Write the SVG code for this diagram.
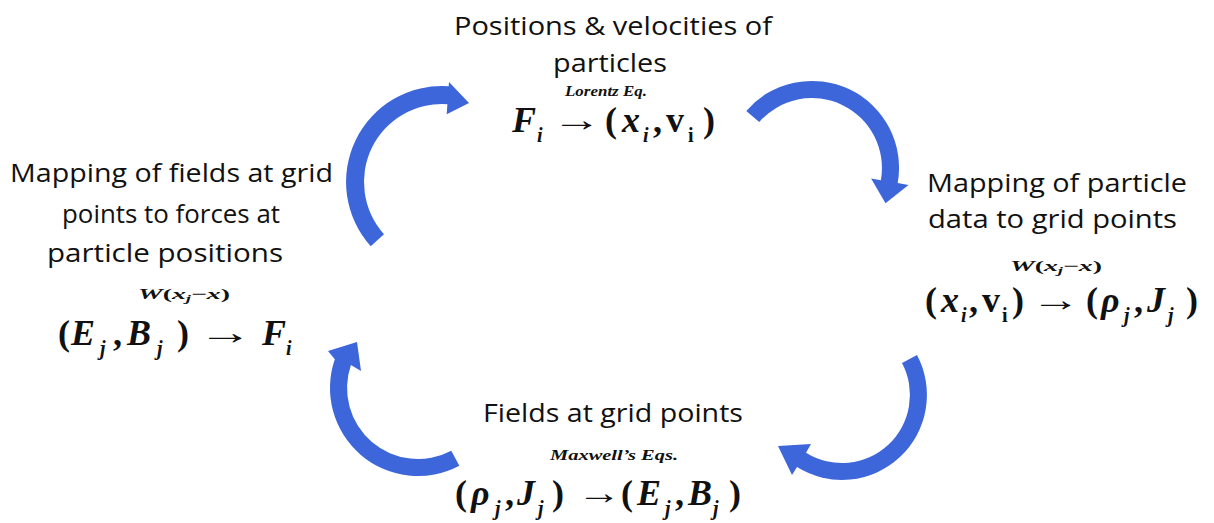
<svg xmlns="http://www.w3.org/2000/svg" width="1214" height="523" viewBox="0 0 1214 523">
<style>
.t{font-family:"Open Sans","Liberation Sans",sans-serif;font-size:26px;font-weight:500;fill:#111}
.m{font-family:"Liberation Serif","DejaVu Serif",serif;font-weight:bold;font-size:36px;fill:#111}
.i{font-style:italic}
.s{font-size:20px}
.ar{font-family:"Liberation Serif","DejaVu Serif",serif;font-weight:bold;font-size:34px;fill:#111}
.lab{font-family:"Liberation Serif","DejaVu Serif",serif;font-weight:bold;font-style:italic;font-size:15px;fill:#111}
.arr{fill:#3c66da}
</style>
<rect width="1214" height="523" fill="#fff"/>
<g id="connectors">
<path class="arr" d="M370.7,246.2 A96,96 0 0 1 448.7,86.2 L449,82 L469,103 L446.7,114.2 L447.4,104.2 A78,78 0 0 0 384,234.2 Z"/>
<path class="arr" d="M746.3,110.9 A87,87 0 0 1 897.7,183.1 L908.5,185 L885.5,203.3 L871.1,178.4 L880.9,180.2 A70,70 0 0 0 759.2,122.1 Z"/>
<path class="arr" d="M917,355.1 A85,85 0 0 1 797,467.1 L792,475 L778,446 L811,444 L806,452.7 A68,68 0 0 0 902,363.1 Z"/>
<path class="arr" d="M459.3,465.7 A88,88 0 0 1 334.8,359.3 L328,351 L357,342 L361,371 L350.9,364.9 A71,71 0 0 0 451.3,450.7 Z"/>
</g>
<g id="node-particles">
<text class="t" x="454" y="35" textLength="318" lengthAdjust="spacingAndGlyphs">Positions &amp; velocities of</text>
<text class="t" x="553" y="72" textLength="114" lengthAdjust="spacingAndGlyphs">particles</text>
<text class="lab" x="565" y="96" textLength="82" lengthAdjust="spacingAndGlyphs">Lorentz Eq.</text>
<text class="m" y="132"><tspan class="i" x="512">F</tspan><tspan class="s i" x="537" dy="10">i</tspan><tspan x="605" dy="-10">(</tspan><tspan class="i" x="622">x</tspan><tspan class="s i" x="643" dy="10">i</tspan><tspan x="653" dy="-10">,</tspan><tspan x="666">v</tspan><tspan class="s" x="688" dy="10">i</tspan><tspan x="703" dy="-10">)</tspan></text>
<text class="ar" transform="translate(552,131) scale(1.45,1)">→</text>
</g>
<g id="node-deposit">
<text class="t" x="927" y="192" textLength="260" lengthAdjust="spacingAndGlyphs">Mapping of particle</text>
<text class="t" x="928" y="228" textLength="249" lengthAdjust="spacingAndGlyphs">data to grid points</text>
<text class="lab" x="1010" y="271" textLength="92" lengthAdjust="spacingAndGlyphs">W<tspan font-style="normal">(</tspan>x<tspan font-size="10px" dy="3">j</tspan><tspan dy="-3" font-style="normal">−</tspan>x<tspan font-style="normal">)</tspan></text>
<text class="m" y="312"><tspan x="925">(</tspan><tspan class="i" x="941">x</tspan><tspan class="s i" x="961" dy="10">i</tspan><tspan x="969" dy="-10">,</tspan><tspan x="982">v</tspan><tspan class="s" x="1002" dy="10">i</tspan><tspan x="1012" dy="-10">)</tspan><tspan x="1086">(</tspan><tspan class="i" x="1101">ρ</tspan><tspan class="s i" x="1124" dy="10">j</tspan><tspan x="1134" dy="-10">,</tspan><tspan class="i" x="1147">J</tspan><tspan class="s i" x="1168" dy="10">j</tspan><tspan x="1186" dy="-10">)</tspan></text>
<text class="ar" transform="translate(1031,311) scale(1.45,1)">→</text>
</g>
<g id="node-fields">
<text class="t" x="483" y="422" textLength="260" lengthAdjust="spacingAndGlyphs">Fields at grid points</text>
<text class="lab" x="550" y="460" textLength="128" lengthAdjust="spacingAndGlyphs">Maxwell’s Eqs.</text>
<text class="m" y="505"><tspan x="455">(</tspan><tspan class="i" x="471">ρ</tspan><tspan class="s i" x="495" dy="10">j</tspan><tspan x="505" dy="-10">,</tspan><tspan class="i" x="517">J</tspan><tspan class="s i" x="538" dy="10">j</tspan><tspan x="552" dy="-10">)</tspan><tspan x="621">(</tspan><tspan class="i" x="637">E</tspan><tspan class="s i" x="665" dy="10">j</tspan><tspan x="675" dy="-10">,</tspan><tspan class="i" x="688">B</tspan><tspan class="s i" x="713" dy="10">j</tspan><tspan x="729" dy="-10">)</tspan></text>
<text class="ar" transform="translate(577,504) scale(1.3,1)">→</text>
</g>
<g id="node-interp">
<text class="t" x="10" y="182" textLength="323" lengthAdjust="spacingAndGlyphs">Mapping of fields at grid</text>
<text class="t" x="62" y="223" textLength="218" lengthAdjust="spacingAndGlyphs">points to forces at</text>
<text class="t" x="47" y="262" textLength="236" lengthAdjust="spacingAndGlyphs">particle positions</text>
<text class="lab" x="138" y="299" textLength="92" lengthAdjust="spacingAndGlyphs">W<tspan font-style="normal">(</tspan>x<tspan font-size="10px" dy="3">j</tspan><tspan dy="-3" font-style="normal">−</tspan>x<tspan font-style="normal">)</tspan></text>
<text class="m" y="345"><tspan x="58">(</tspan><tspan class="i" x="71">E</tspan><tspan class="s i" x="100" dy="10">j</tspan><tspan x="113" dy="-10">,</tspan><tspan class="i" x="127">B</tspan><tspan class="s i" x="157" dy="10">j</tspan><tspan x="177" dy="-10">)</tspan><tspan class="i" x="262">F</tspan><tspan class="s i" x="286" dy="10">i</tspan></text>
<text class="ar" transform="translate(198,344) scale(1.6,1)">→</text>
</g>
</svg>
